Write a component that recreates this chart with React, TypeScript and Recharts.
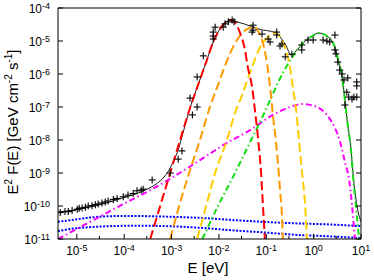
import React from 'react';
import { ComposedChart, Line, Scatter, XAxis, YAxis } from 'recharts';

// all curves and points are [log10 E (eV), log10 E^2 F(E) (GeV cm^-2 s^-1)]
const redCurve = [
  [-3.45, -11], [-3.24, -10], [-3.03, -9], [-2.82, -8], [-2.61, -7.03], [-2.44, -6.33],
  [-2.27, -5.64], [-2.12, -5.03], [-1.98, -4.64], [-1.85, -4.42], [-1.74, -4.36], [-1.64, -4.48],
  [-1.56, -4.73], [-1.45, -5.27], [-1.39, -5.79], [-1.3, -6.39], [-1.24, -7.09], [-1.17, -8.0],
  [-1.11, -9.0], [-1.07, -10], [-1.03, -11],
];
const orangeCurve = [
  [-3.03, -11], [-2.84, -10], [-2.63, -9], [-2.4, -8], [-2.19, -7], [-2.02, -6.33],
  [-1.85, -5.67], [-1.68, -5.12], [-1.51, -4.76], [-1.36, -4.61], [-1.26, -4.58], [-1.15, -4.76],
  [-1.05, -5.18], [-0.98, -5.73], [-0.92, -6.39], [-0.86, -7.24], [-0.8, -8.0], [-0.75, -8.76],
  [-0.71, -9.52], [-0.67, -10.27], [-0.65, -11],
];
const goldCurve = [
  [-2.46, -11], [-2.27, -10], [-2.08, -9], [-1.83, -8], [-1.64, -7.09], [-1.51, -6.64],
  [-1.4, -6.18], [-1.3, -5.79], [-1.13, -5.18], [-0.96, -4.88], [-0.82, -4.76], [-0.71, -4.88],
  [-0.61, -5.18], [-0.5, -5.79], [-0.44, -6.39], [-0.37, -7.09], [-0.31, -8.0], [-0.25, -8.91],
  [-0.18, -9.97], [-0.14, -11],
];
const greenCurve = [
  [-2.35, -11], [-2.02, -10], [-1.66, -9], [-1.32, -8], [-1.09, -7.33], [-0.92, -6.79],
  [-0.65, -5.97], [-0.39, -5.36], [-0.22, -5.06], [-0.03, -4.85], [0.11, -4.76], [0.28, -4.85],
  [0.43, -5.12], [0.51, -5.52], [0.6, -6.09], [0.66, -6.79], [0.72, -7.55], [0.79, -8.3],
  [0.83, -9.06], [0.89, -9.97], [0.96, -11],
];
const magentaCurve = [
  [-5.4, -11], [-4.72, -10.48], [-4.02, -9.94], [-3.45, -9.52], [-3.07, -9.21], [-2.4, -8.61],
  [-1.87, -8.12], [-1.34, -7.7], [-0.86, -7.24], [-0.5, -7.0], [-0.22, -6.91], [0.07, -7.0],
  [0.28, -7.24], [0.45, -7.64], [0.56, -8.06], [0.66, -8.67], [0.75, -9.21], [0.81, -9.97],
  [0.87, -11],
];
const blueUpper = [
  [-5.4, -10.48], [-5.04, -10.41], [-4.72, -10.35], [-4.3, -10.31], [-3.88, -10.3], [-3.45, -10.31],
  [-2.93, -10.33], [-2.4, -10.36], [-1.77, -10.42], [-1.07, -10.48], [-0.29, -10.53], [0.34, -10.56],
  [1.0, -10.61],
];
const blueLower = [
  [-5.4, -10.76], [-5.04, -10.68], [-4.72, -10.64], [-4.3, -10.61], [-3.88, -10.6], [-3.45, -10.6],
  [-2.93, -10.62], [-2.4, -10.66], [-1.77, -10.73], [-1.07, -10.8], [-0.29, -10.88], [0.34, -10.92],
  [1.0, -10.97],
];
const totalCurve = [
  [-5.4, -10.18], [-5.04, -10.12], [-4.72, -10.03], [-4.3, -9.88], [-4.04, -9.76], [-3.77, -9.64],
  [-3.56, -9.52], [-3.35, -9.36], [-3.24, -9.24], [-3.14, -9.09], [-3.03, -8.85], [-2.95, -8.61],
  [-2.86, -8.3], [-2.76, -7.79], [-2.61, -7.03], [-2.44, -6.33], [-2.27, -5.64], [-2.12, -5.03],
  [-1.98, -4.64], [-1.85, -4.42], [-1.74, -4.36], [-1.62, -4.42], [-1.47, -4.48], [-1.34, -4.55],
  [-1.22, -4.61], [-1.07, -4.67], [-0.92, -4.7], [-0.8, -4.76], [-0.69, -4.91], [-0.58, -5.15],
  [-0.48, -5.42], [-0.37, -5.3], [-0.22, -5.06], [-0.03, -4.85], [0.11, -4.76], [0.28, -4.85],
  [0.43, -5.12], [0.51, -5.52], [0.6, -6.09], [0.66, -6.79], [0.72, -7.55], [0.79, -8.3],
  [0.83, -9.0], [0.89, -9.76], [0.94, -10.18], [1.0, -10.48],
];
const fluxPoints = [
  [-5.35, -10.2], [-5.25, -10.17], [-5.18, -10.17], [-5.1, -10.14], [-4.99, -10.1], [-4.95, -10.07],
  [-4.89, -10.06], [-4.82, -10.04], [-4.76, -10.0], [-4.68, -9.99], [-4.61, -9.96], [-4.55, -9.94],
  [-4.47, -9.91], [-4.4, -9.88], [-4.34, -9.85], [-4.23, -9.8], [-4.15, -9.77], [-4.02, -9.72],
  [-3.92, -9.67], [-3.81, -9.62], [-3.73, -9.54], [-3.64, -9.52], [-3.6, -9.49], [-3.41, -9.21],
  [-3.03, -9.0], [-2.86, -8.58], [-2.78, -8.33], [-2.61, -6.73], [-2.56, -7.24], [-2.46, -7.0],
  [-2.46, -6.09], [-2.33, -5.45], [-2.12, -4.94], [-2.12, -4.85], [-2.12, -4.73], [-2.08, -4.58],
  [-1.91, -4.58], [-1.87, -4.48], [-1.8, -4.42], [-1.72, -4.36], [-1.68, -4.42], [-1.3, -4.73],
  [-1.28, -4.67], [-1.28, -4.52], [-1.09, -4.79], [-0.96, -4.94], [-0.92, -5.03], [-0.78, -4.73],
  [-0.78, -4.82], [-0.71, -5.15], [-0.67, -5.09], [-0.6, -5.48], [-0.46, -5.4], [-0.25, -5.27],
  [-0.25, -5.12], [-0.12, -4.97], [-0.01, -4.97], [0.2, -4.97], [0.28, -5.0], [0.34, -5.03],
  [0.45, -4.82], [0.45, -5.27], [0.47, -5.39], [0.51, -5.64], [0.55, -5.88], [0.6, -6.0],
  [0.64, -6.18], [0.72, -6.12], [0.91, -6.24], [0.91, -6.36], [0.7, -6.55], [0.74, -6.7],
  [0.85, -6.7], [0.91, -6.7], [0.81, -6.76], [0.66, -6.94],
];

const xTicks = [1e-5, 1e-4, 1e-3, 1e-2, 1e-1, 1, 10];
const xMinorTicks = [3e-5, 3e-4, 3e-3, 3e-2, 3e-1, 3];
const yTicks = [1e-11, 1e-10, 1e-9, 1e-8, 1e-7, 1e-6, 1e-5, 1e-4];

const toRows = (arr: number[][]) => arr.map(([le, lf]) => ({ e: 10 ** le, f: 10 ** lf }));

const FONT = '"Liberation Sans", Arial, Helvetica, sans-serif';
const X_DOMAIN = [4e-6, 10];
const Y_DOMAIN = [1e-11, 1e-4];

const isDecade = (v: number) => Math.abs(Math.log10(v) - Math.round(Math.log10(v))) < 1e-6;
const expOf = (v: number) => Math.round(Math.log10(v));

function BottomTick(props: any) {
  const { x, y, payload } = props;
  const major = isDecade(payload.value);
  return (
    <g>
      <line x1={x} x2={x} y1={y} y2={y - (major ? 5 : 3)} stroke="#000" />
      {major && (
        <text x={x} y={y + 16} textAnchor="middle" fontSize={12} fontFamily={FONT} fill="#000">
          10<tspan dy={-4.5} fontSize={9}>{expOf(payload.value)}</tspan>
        </text>
      )}
    </g>
  );
}

function TopTick(props: any) {
  const { x, y, payload } = props;
  const major = isDecade(payload.value);
  return <line x1={x} x2={x} y1={y} y2={y + (major ? 5 : 3)} stroke="#000" />;
}

function LeftTick(props: any) {
  const { x, y, payload } = props;
  return (
    <g>
      <line x1={x} x2={x + 5} y1={y} y2={y} stroke="#000" />
      <text x={x - 8} y={y + 5} textAnchor="end" fontSize={12} fontFamily={FONT} fill="#000">
        10<tspan dy={-4.5} fontSize={9}>{expOf(payload.value)}</tspan>
      </text>
    </g>
  );
}

function RightTick(props: any) {
  const { x, y } = props;
  return <line x1={x} x2={x - 5} y1={y} y2={y} stroke="#000" />;
}

function Cross(props: any) {
  const { cx, cy } = props;
  if (cx == null || cy == null) return null;
  return (
    <g stroke="#000" strokeWidth={1.1}>
      <line x1={cx - 3.5} x2={cx + 3.5} y1={cy} y2={cy} />
      <line x1={cx} x2={cx} y1={cy - 3.5} y2={cy + 3.5} />
    </g>
  );
}

// total is drawn first so the coloured components sit on top of it
const series = [
  { name: 'total', data: totalCurve, color: '#000000', width: 0.9, dash: undefined },
  { name: 'ic-upper', data: blueUpper, color: '#0000ff', width: 2, dash: '2 1.5' },
  { name: 'ic-lower', data: blueLower, color: '#0000ff', width: 2, dash: '2 1.5' },
  { name: 'magenta', data: magentaCurve, color: '#ff00ff', width: 2, dash: '6 3 1.5 3' },
  { name: 'green', data: greenCurve, color: '#11dd11', width: 2, dash: '6 3 1.5 3' },
  { name: 'gold', data: goldCurve, color: '#ffcc00', width: 2, dash: '9 4' },
  { name: 'orange', data: orangeCurve, color: '#ff9900', width: 2, dash: '9 4' },
  { name: 'red', data: redCurve, color: '#ff0000', width: 2, dash: '9 4' },
];

export default function App() {
  const allXTicks = [...xTicks, ...xMinorTicks].sort((a, b) => a - b);
  return (
    <div style={{ position: 'absolute', left: 0, top: 0, width: 374, height: 280, background: '#fff' }}>
      <ComposedChart width={374} height={280} margin={{ top: 7, right: 12, bottom: 0, left: 0 }}>
        <XAxis
          dataKey="e"
          type="number"
          scale="log"
          domain={X_DOMAIN}
          allowDataOverflow
          ticks={allXTicks}
          interval={0}
          height={41}
          tickSize={0}
          tickMargin={0}
          tickLine={false}
          axisLine={{ stroke: '#000' }}
          tick={BottomTick}
        />
        <XAxis
          xAxisId="top"
          orientation="top"
          type="number"
          scale="log"
          domain={X_DOMAIN}
          allowDataOverflow
          ticks={allXTicks}
          interval={0}
          height={1}
          tickSize={0}
          tickMargin={0}
          tickLine={false}
          axisLine={{ stroke: '#000' }}
          tick={TopTick}
        />
        <YAxis
          dataKey="f"
          type="number"
          scale="log"
          domain={Y_DOMAIN}
          allowDataOverflow
          ticks={yTicks}
          interval={0}
          width={58}
          tickSize={0}
          tickMargin={0}
          tickLine={false}
          axisLine={{ stroke: '#000' }}
          tick={LeftTick}
        />
        <YAxis
          yAxisId="right"
          orientation="right"
          type="number"
          scale="log"
          domain={Y_DOMAIN}
          allowDataOverflow
          ticks={yTicks}
          interval={0}
          width={1}
          tickSize={0}
          tickMargin={0}
          tickLine={false}
          axisLine={{ stroke: '#000' }}
          tick={RightTick}
        />
        {series.map((s) => (
          <Line
            key={s.name}
            data={toRows(s.data)}
            dataKey="f"
            type="monotone"
            stroke={s.color}
            strokeWidth={s.width}
            strokeDasharray={s.dash}
            dot={false}
            activeDot={false}
            isAnimationActive={false}
          />
        ))}
        <Scatter data={toRows(fluxPoints)} dataKey="f" shape={Cross} isAnimationActive={false} />
      </ComposedChart>
      <svg width={374} height={280} style={{ position: 'absolute', left: 0, top: 0, pointerEvents: 'none' }}>
        <text transform="translate(18,122) rotate(-90)" textAnchor="middle" fontSize={15} fontFamily={FONT} fill="#000">
          E<tspan dy={-6} fontSize={10}>2</tspan>
          <tspan dy={6}> F(E) [GeV cm</tspan>
          <tspan dy={-6} fontSize={10}>-2</tspan>
          <tspan dy={6}> s</tspan>
          <tspan dy={-6} fontSize={10}>-1</tspan>
          <tspan dy={6}>]</tspan>
        </text>
        <text x={208} y={273} textAnchor="middle" fontSize={15} fontFamily={FONT} fill="#000">
          E [eV]
        </text>
      </svg>
    </div>
  );
}
